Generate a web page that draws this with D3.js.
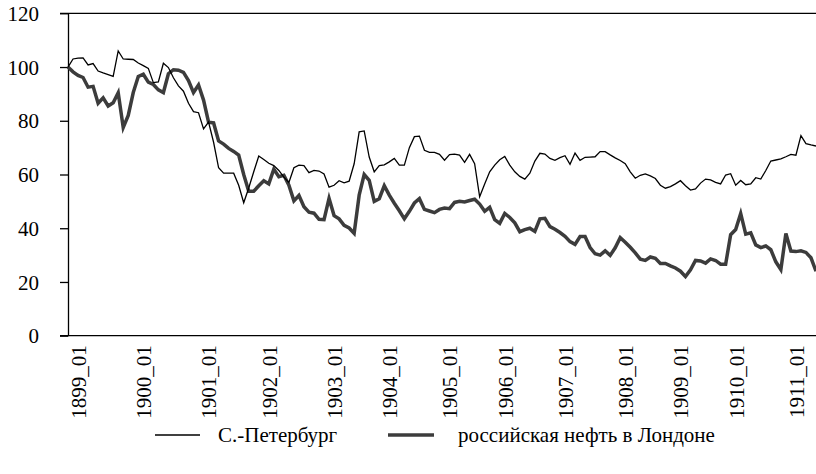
<!DOCTYPE html>
<html><head><meta charset="utf-8">
<script src="https://cdn.jsdelivr.net/npm/d3@7/dist/d3.min.js"></script>
<style>body{margin:0;background:#fff}svg{display:block}</style>
</head><body>
<svg id="c" width="816" height="474"></svg>
<script>
// Monthly observations (index 0 = first month shown, both series = 100)
const spb = [100,103,103.3,103.4,100.8,101.3,98.5,97.8,97.2,96.5,106,103,102.9,102.8,101.5,100.5,99.5,94.2,94.5,101.4,
  99.8,96,93,91,86.5,83.4,83,77,79.5,72,62.5,60.5,60.5,60.5,56,49.5,55,61,66.9,65.6,
  64.2,63.3,61.5,59,57,62.5,63.5,63.3,60.7,61.5,61.3,60.2,55.3,56,57.7,56.9,57.5,64,75.9,76.2,
  66.5,61,63.3,63.6,64.7,66,63.5,63.5,70,74.1,74.3,69,68.2,68.2,67.5,65.3,67.4,67.6,67.2,64.5,
  67.5,64,51.7,56.5,61,63.5,65.5,66.7,63.5,61,59.3,58.3,60.5,65,67.9,67.6,66,65.3,66.3,67,
  63.8,68,65.3,66.4,66.5,66.6,68.5,68.5,67.3,66.2,65.2,64,61,58.6,59.7,60.2,59.5,58.5,56,54.9,
  55.5,56.5,57.7,55.8,54.2,54.6,56.8,58.3,58,57.1,56.5,59.8,60.3,56,57.8,56.2,56.5,58.8,58.3,61.5,
  65,65.4,65.8,66.6,67.5,67.2,74.5,71.5,71,70.6];
const london = [100,98.2,96.9,96.1,92.5,92.8,86.5,88.5,85.5,86.7,90.4,77.5,82,90.5,96.5,97.3,94.4,93.5,91.5,90.5,
  97.5,99,98.8,98,95,90.5,93.3,87.7,79.5,79.2,72.5,71.3,69.7,68.6,67.2,60,53.8,53.8,55.8,57.7,
  56.5,62,59.2,59.7,56,50.2,52.2,48,46,45.6,43.3,43.2,51.1,44.7,43.5,41.1,40.1,38.1,52.3,60,
  57.8,50,51,55.8,52.3,49.3,46.5,43.5,46.3,49.4,51,47,46.4,45.8,47,47.5,47.3,49.6,50,49.8,
  50.3,50.8,49,46.3,47.8,43.2,41.8,45.5,44,42,38.7,39.5,40,38.8,43.5,43.7,40.6,39.6,38.4,37,
  35,34,36.9,36.9,32.8,30.5,30,31.6,29.9,32.7,36.5,34.8,32.9,30.8,28.5,28,29.3,28.8,26.9,26.9,
  26,25.2,24,22,24.5,28,27.8,27,28.6,28,26.6,26.6,37.6,39.5,45.5,37.8,38.3,33.8,32.8,33.4,
  32,27.5,24.6,38,31.5,31.3,31.6,31,29,24];
const xLabels = ["1899_01","1900_01","1901_01","1902_01","1903_01","1904_01","1905_01","1906_01","1907_01","1908_01","1909_01","1910_01","1911_01"];
const xLabelIndex = [2,15,28,40,53,64,76,87,99,111,122,133,145];
const yTicks = [0,20,40,60,80,100,120];
const seriesNames = ["С.-Петербург","российская нефть в Лондоне"];

const FONT = '"Liberation Serif"';
const svg = d3.select("#c");
const M = {left:68, right:816, top:13.3, bottom:335.7};
const x = d3.scaleLinear().domain([0, spb.length-1]).range([M.left, M.right]);
const y = d3.scaleLinear().domain([0,120]).range([M.bottom, M.top]);

// frame lines
svg.append("line").attr("x1",60).attr("x2",816).attr("y1",y(120)).attr("y2",y(120)).attr("stroke","#000").attr("stroke-width",1.3);
svg.append("line").attr("x1",60).attr("x2",816).attr("y1",y(0)).attr("y2",y(0)).attr("stroke","#000").attr("stroke-width",1.3);

// y axis
const ya = svg.append("g").attr("transform",`translate(${M.left},0)`)
  .call(d3.axisLeft(y).tickValues(yTicks).tickSize(8).tickSizeOuter(0).tickPadding(21));
ya.select(".domain").attr("stroke","#000").attr("stroke-width",1.3);
ya.selectAll(".tick line").attr("stroke","#000").attr("stroke-width",1.3);
ya.selectAll("text").style("font-size","21px").style("font-family",FONT).style("fill","#000").attr("dy","0.34em");

// x axis labels
const xa = svg.append("g").attr("transform",`translate(0,${M.bottom})`)
  .call(d3.axisBottom(x).tickValues(xLabelIndex).tickFormat((d,i)=>xLabels[i]).tickSize(0));
xa.select(".domain").remove();
xa.selectAll(".tick text")
  .style("font-size","21px").style("font-family",FONT).style("fill","#000")
  .attr("text-anchor","end")
  .attr("transform","translate(0,9.5) rotate(-90)")
  .attr("x",0).attr("y",0).attr("dy","0.35em");

const line = d3.line().x((d,i)=>x(i)).y(d=>y(d));
svg.append("path").datum(london).attr("d",line).attr("fill","none")
  .attr("stroke","#3c3c3c").attr("stroke-width",3.5).attr("stroke-linejoin","miter");
svg.append("path").datum(spb).attr("d",line).attr("fill","none")
  .attr("stroke","#000").attr("stroke-width",1.3).attr("stroke-linejoin","miter");

// legend
const lg = svg.append("g").attr("transform","translate(0,435)");
lg.append("line").attr("x1",155).attr("x2",200).attr("y1",0).attr("y2",0).attr("stroke","#000").attr("stroke-width",1.3);
lg.append("text").attr("x",218).attr("y",0).attr("dy","0.34em").style("font-size","21px").style("font-family",FONT).style("fill","#000").text(seriesNames[0]);
lg.append("line").attr("x1",388).attr("x2",434).attr("y1",0).attr("y2",0).attr("stroke","#3c3c3c").attr("stroke-width",3.5);
lg.append("text").attr("x",458).attr("y",0).attr("dy","0.34em").style("font-size","21px").style("font-family",FONT).style("fill","#000").text(seriesNames[1]);
</script>
</body></html>
